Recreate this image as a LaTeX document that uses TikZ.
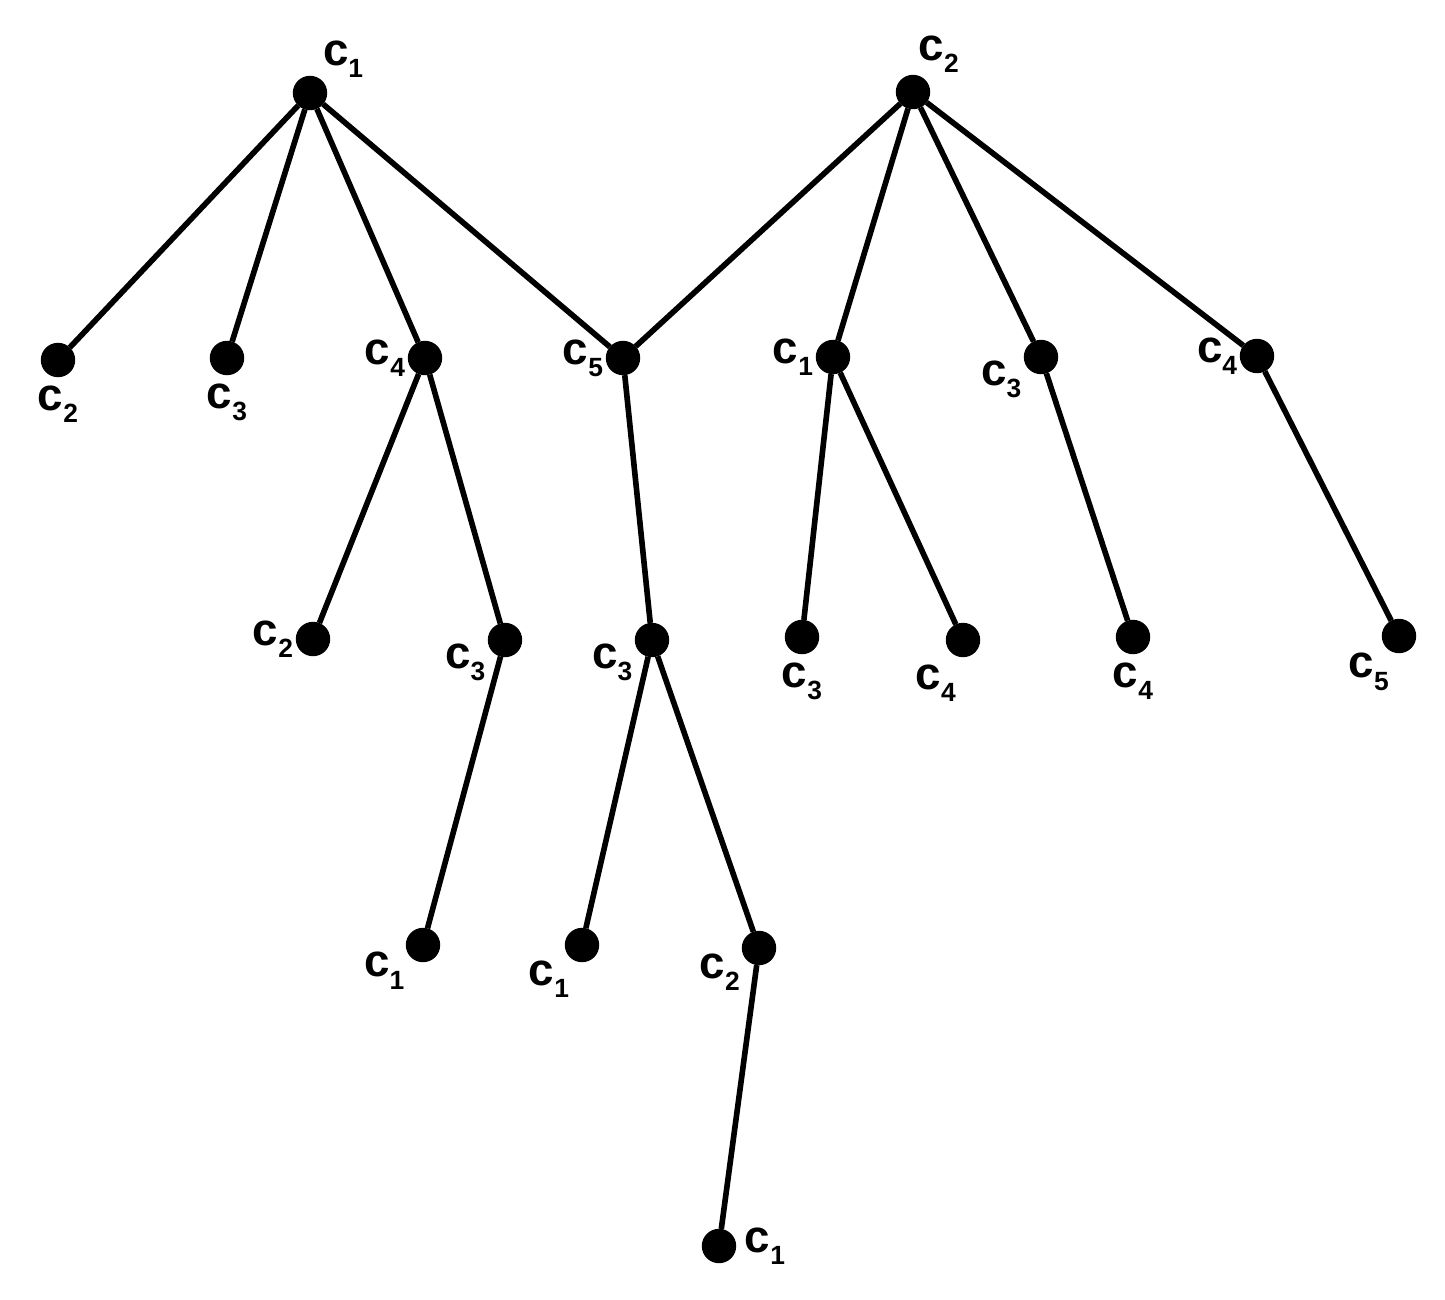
\documentclass[tikz,border=0pt]{standalone}
\usepackage{fontspec}
\setmainfont{Liberation Sans}
\newcommand\cc[1]{\textbf{c}\raisebox{-3.5pt}{\fontsize{7.5}{7.5}\selectfont\bfseries #1}}
\begin{document}
\begin{tikzpicture}[x=0.01cm, y=-0.01cm,
    every node/.style={draw, circle, fill=black, inner sep=0pt, minimum size=0.33cm},
    every label/.style={draw=none, fill=none, circle=false, rectangle, inner sep=0pt, minimum size=0pt, font=\fontsize{13}{13}\selectfont},
    far/.style={label distance=0.08cm},
    label distance=0.02cm]
        \useasboundingbox (0,0) rectangle (1445,1299);
        \node (r1) at (310,93) [label={50:\cc1}] {};
        \node (r2) at (913,92) [label={75:\cc2}] {};
        \node (a2) at (58,360) [label={[far]below:\cc2}] {};
        \node (a3) at (227,358) [label={[far]below:\cc3}] {};
        \node (a4) at (425,358) [label={left:\cc4}] {};
        \node (m5) at (623,358) [label={left:\cc5}] {};
        \node (b1) at (833,357) [label={left:\cc1}] {};
        \node (b3) at (1041,357) [label={190:\cc3}] {};
        \node (b4) at (1257,356) [label={left:\cc4}] {};
        \node (a42) at (313,639) [label={left:\cc2}] {};
        \node (a43) at (505,640) [label={190:\cc3}] {};
        \node (a431) at (423,945) [label={200:\cc1}] {};
        \node (m3) at (652,640) [label={190:\cc3}] {};
        \node (m31) at (582,945) [label={230:\cc1}] {};
        \node (m32) at (759,948) [label={195:\cc2}] {};
        \node (m321) at (719,1246) [label={[far]right:\cc1}] {};
        \node (b13) at (802,637) [label={[far]below:\cc3}] {};
        \node (b14) at (963,640) [label={[far]255:\cc4}] {};
        \node (b34) at (1133,637) [label={[far]below:\cc4}] {};
        \node (b45) at (1399,636) [label={240:\cc5}] {};

        \draw[line width=1.6pt] (a2) -- (r1) -- (a3) (r1) -- (a4) (r1) -- (m5) -- (r2) -- (b1) (r2) -- (b3) (r2) -- (b4);
        \draw[line width=1.6pt] (a42) -- (a4) -- (a43) -- (a431) (m5) -- (m3) -- (m31) (m3) -- (m32) -- (m321);
        \draw[line width=1.6pt] (b13) -- (b1) -- (b14) (b3) -- (b34) (b4) -- (b45);
    \end{tikzpicture}
\end{document}
